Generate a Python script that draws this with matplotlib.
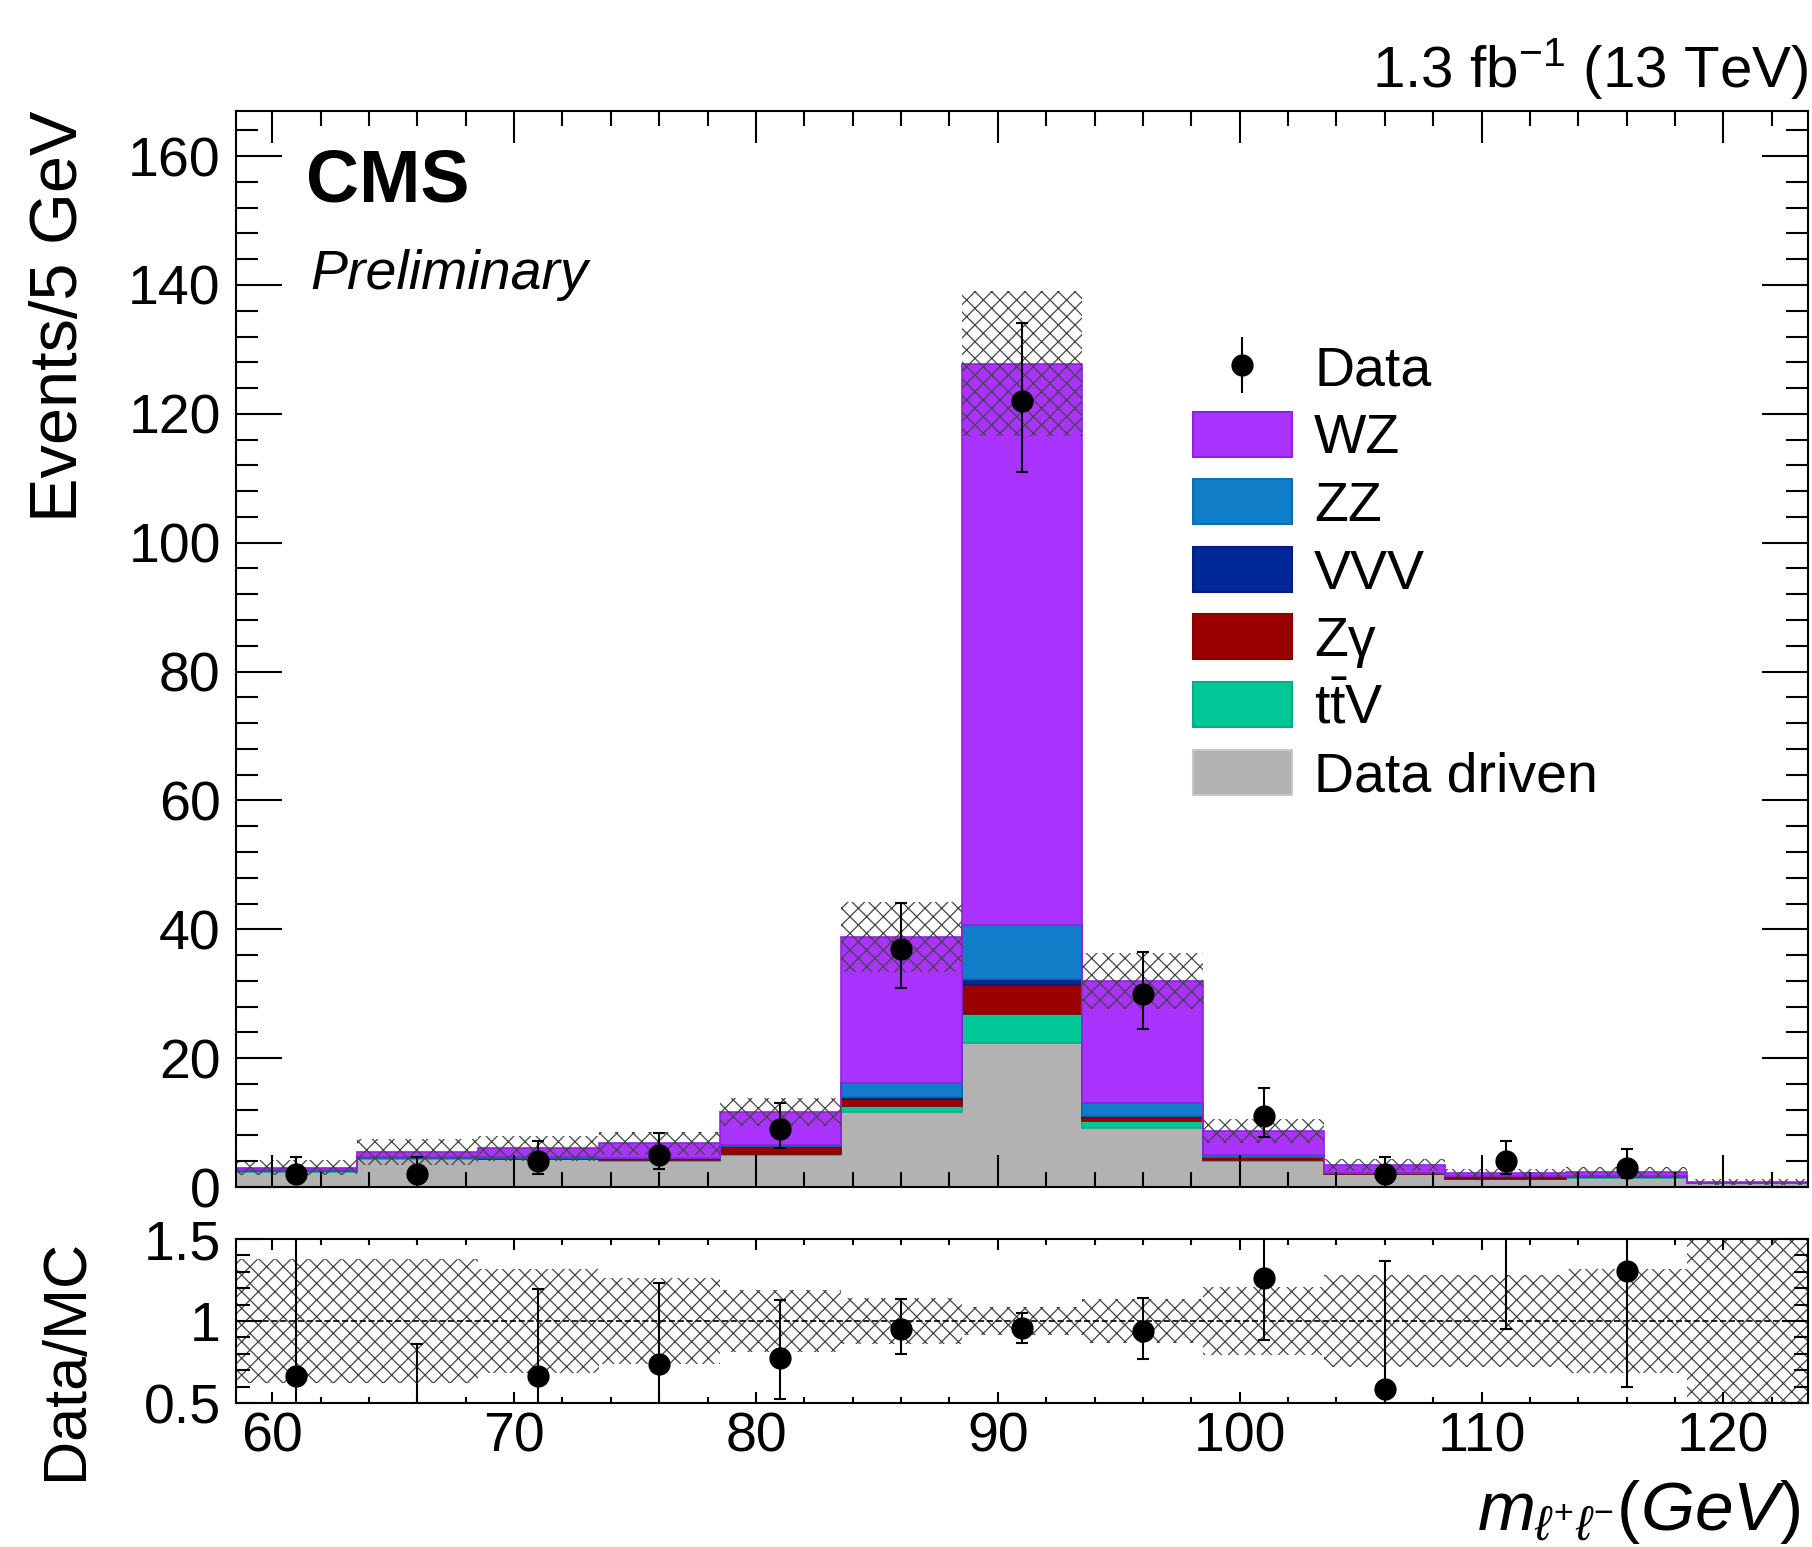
import numpy as np
import matplotlib
matplotlib.use('Agg')
import matplotlib.pyplot as plt
from matplotlib.patches import Patch
from matplotlib.ticker import MultipleLocator, FixedLocator

plt.rcParams['font.family'] = ['Liberation Sans', 'DejaVu Sans']
plt.rcParams['mathtext.fontset'] = 'custom'
plt.rcParams['mathtext.rm'] = 'Liberation Sans'
plt.rcParams['mathtext.it'] = 'Liberation Sans:italic'
plt.rcParams['mathtext.bf'] = 'Liberation Sans:bold'
plt.rcParams['hatch.linewidth'] = 0.9

# bin centres of m(l+l-) [GeV], 5 GeV bins
mass = np.array([61, 66, 71, 76, 81, 86, 91, 96, 101, 106, 111, 116, 121])

# stacked backgrounds, bottom -> top
data_driven = [2.3, 4.4, 4.3, 4.1, 4.9, 11.7, 22.4, 9.2, 4.0, 2.0, 1.3, 1.45, 0.6]
ttv = [0.2, 0.05, 0.1, 0.1, 0.2, 0.8, 4.5, 1.0, 0.2, 0.05, 0.0, 0.05, 0.0]
zgamma = [0.0, 0.05, 0.15, 0.25, 1.2, 1.1, 4.4, 0.6, 0.4, 0.05, 0.35, 0.0, 0.0]
vvv = [0.0, 0.0, 0.0, 0.02, 0.05, 0.3, 1.0, 0.2, 0.05, 0.0, 0.0, 0.0, 0.0]
zz = [0.1, 0.2, 0.1, 0.1, 0.15, 2.2, 8.3, 2.1, 0.25, 0.1, 0.05, 0.25, 0.0]
wz = [0.4, 0.7, 1.35, 2.23, 5.1, 22.7, 87.2, 18.9, 3.8, 1.2, 0.5, 0.55, 0.2]

# relative MC uncertainty per bin
rel_unc = [0.38, 0.38, 0.32, 0.26, 0.19, 0.14, 0.088, 0.135, 0.21, 0.28, 0.28, 0.32, 0.6]

# observed data with asymmetric poisson errors
data = np.array([2, 2, 4, 5, 9, 37, 122, 30, 11, 2, 4, 3, 0], dtype=float)
err_lo = np.array([1.29, 1.29, 1.91, 2.16, 2.94, 6.06, 11.0, 5.45, 3.30, 1.29, 1.91, 1.63, 0])
err_hi = np.array([2.64, 2.64, 3.16, 3.38, 4.11, 7.12, 12.1, 6.55, 4.42, 2.64, 3.16, 2.92, 1.84])

labels = ['Data driven', r'$\mathrm{t\bar{t}V}$', 'Zγ', 'VVV', 'ZZ', 'WZ']
colors = ['#b2b2b2', '#00c896', '#9b0000', '#002896', '#117dc8', '#aa33ff']
edgecols = ['#c8c8c8', '#00b085', '#880000', '#00207a', '#0f6fb0', '#8f22dd']

edges = np.append(mass - 2.5, mass[-1] + 2.5)
W, H = 1812, 1547

fig = plt.figure(figsize=(W / 100, H / 100), dpi=100)
ax = fig.add_axes([236 / W, 1 - 1187 / H, (1808 - 236) / W, (1187 - 111) / H])
rax = fig.add_axes([236 / W, 1 - 1403 / H, (1808 - 236) / W, (1403 - 1239) / H])

bottom = np.zeros(len(mass))
for vals, c, ec in zip([data_driven, ttv, zgamma, vvv, zz, wz], colors, edgecols):
    top = bottom + np.array(vals)
    ax.stairs(top, edges, baseline=bottom, fill=True, facecolor=c,
              edgecolor=ec, linewidth=1.2)
    bottom = top
total = bottom

rel = np.array(rel_unc)
ax.stairs(total * (1 + rel), edges, baseline=total * (1 - rel), fill=True,
          facecolor='none', edgecolor='#444444', hatch='xx', linewidth=0)

mask = data > 0
ax.errorbar(mass[mask], data[mask], yerr=[err_lo[mask], err_hi[mask]], fmt='o',
            color='k', ms=15, elinewidth=1.5, capsize=4.5, capthick=1.5)

ax.set_xlim(edges[0], edges[-1])
ax.set_ylim(0, 167)
ax.xaxis.set_major_locator(MultipleLocator(10))
ax.xaxis.set_minor_locator(MultipleLocator(2))
ax.yaxis.set_major_locator(MultipleLocator(20))
ax.yaxis.set_minor_locator(MultipleLocator(4))
ax.tick_params(which='both', direction='in', top=True, right=True, labelbottom=False,
               labelsize=40, width=1.5)
ax.tick_params(axis='y', which='major', length=33, pad=11)
ax.tick_params(axis='y', which='minor', length=16)
ax.tick_params(axis='x', which='major', length=23)
ax.tick_params(axis='x', which='minor', length=11)
for s in ax.spines.values():
    s.set_linewidth(1.5)

# legend
h_data = ax.errorbar([np.nan], [np.nan], yerr=[[1], [1]], fmt='o', color='k',
                     ms=15, elinewidth=1.5, capsize=0)
handles = [h_data]
names = ['Data']
for i in [5, 4, 3, 2, 1, 0]:
    handles.append(Patch(facecolor=colors[i], edgecolor=edgecols[i], linewidth=1.5))
    names.append(labels[i])
fig.legend(handles, names, loc='upper left', bbox_to_anchor=(1193 / W, 1 - 344 / H),
           frameon=False, fontsize=40, handlelength=1.78, handleheight=0.87,
           handletextpad=0.4, labelspacing=0.25, borderpad=0, borderaxespad=0)

# ratio panel
ratio = np.where(mask, data / total, np.nan)
rax.stairs(1 + rel, edges, baseline=1 - rel, fill=True, facecolor='none',
           edgecolor='#444444', hatch='xx', linewidth=0)
rax.axhline(1, ls='--', color='k', lw=1.2)
rax.errorbar(mass[mask], ratio[mask],
             yerr=[err_lo[mask] / total[mask], err_hi[mask] / total[mask]],
             fmt='o', color='k', ms=15, elinewidth=1.5, capsize=4.5, capthick=1.5)
rax.set_xlim(edges[0], edges[-1])
rax.set_ylim(0.5, 1.5)
rax.xaxis.set_major_locator(MultipleLocator(10))
rax.xaxis.set_minor_locator(MultipleLocator(2))
rax.yaxis.set_major_locator(FixedLocator([0.5, 1.0, 1.5]))
rax.yaxis.set_minor_locator(MultipleLocator(0.1))
rax.set_yticklabels(['0.5', '1', '1.5'])
rax.tick_params(which='both', direction='in', top=True, right=True, labelsize=40, width=1.5)
rax.tick_params(axis='y', which='major', length=19, pad=11)
rax.tick_params(axis='y', which='minor', length=10)
rax.tick_params(axis='x', which='major', length=8, pad=6)
rax.tick_params(axis='x', which='minor', length=4)
for s in rax.spines.values():
    s.set_linewidth(1.5)

# texts
fig.text(60 / W, 1 - 111 / H, 'Events/5 GeV', rotation=90, ha='center', va='top', fontsize=48)
fig.text(66 / W, 1 - 1239 / H, 'Data/MC', rotation=90, ha='center', va='top', fontsize=44)
fig.text(1800 / W, 1 - 1530 / H, r'$m_{\ell^{+}\ell^{-}}(GeV)$', ha='right', va='baseline',
         fontsize=50)
fig.text(306 / W, 1 - 202 / H, 'CMS', fontsize=53, fontweight='bold', va='baseline')
fig.text(310 / W, 1 - 289 / H, 'Preliminary', fontsize=40, style='italic', va='baseline')
fig.text(1808 / W, 1 - 87 / H, r'1.3 fb$^{-1}$ (13 TeV)', fontsize=42, ha='right',
         va='baseline')

fig.savefig('out.png', dpi=100)
